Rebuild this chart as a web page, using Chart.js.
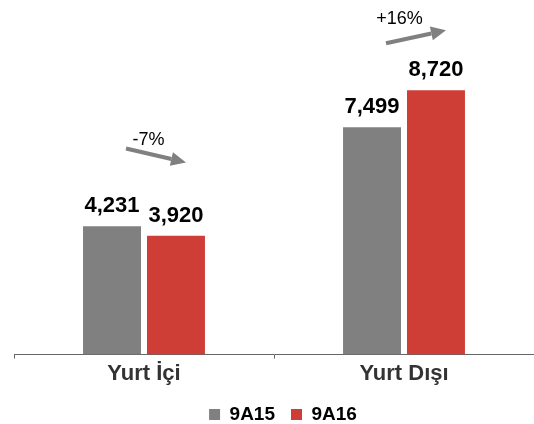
<!DOCTYPE html>
<html>
<head>
<meta charset="utf-8">
<script src="https://cdn.jsdelivr.net/npm/chart.js@4"></script>
<style>
html,body{margin:0;padding:0;background:#fff;}
#wrap{width:534px;height:424px;}
</style>
</head>
<body>
<div id="wrap"><canvas id="c" width="534" height="424"></canvas></div>
<script>
const categories = ["Yurt İçi", "Yurt Dışı"];
const series9A15 = [4231, 7499];
const series9A16 = [3920, 8720];
const seriesNames = ["9A15", "9A16"];
const changeLabels = ["-7%", "+16%"];
// arrow annotations in data units: start, end, label
const arrowStart = [6800, 10270];
const arrowEnd = [6340, 10700];
const arrowTextValue = [7085, 11065];

const FONT = "'Liberation Sans', Arial, sans-serif";

const labelPlugin = {
  id: 'labels',
  afterLayout(chart) {
    if (chart.legend) { chart.legend.left += 9; chart.legend.right += 9; }
  },
  afterDatasetsDraw(chart) {
    const ctx = chart.ctx;
    ctx.save();
    ctx.font = "bold 22px " + FONT;
    ctx.fillStyle = "#000";
    ctx.textAlign = "center";
    ctx.textBaseline = "alphabetic";
    chart.data.datasets.forEach((ds, di) => {
      const meta = chart.getDatasetMeta(di);
      meta.data.forEach((bar, i) => {
        ctx.fillText(ds.data[i].toLocaleString('en-US'), bar.x, bar.y - 14);
      });
    });
    const xs = chart.scales.x, ys = chart.scales.y;
    categories.forEach((c, i) => {
      const cx = xs.getPixelForValue(i);
      const x1 = cx - 18, x2 = cx + 42;
      const y1 = ys.getPixelForValue(arrowStart[i]);
      const y2 = ys.getPixelForValue(arrowEnd[i]);
      const ang = Math.atan2(y2 - y1, x2 - x1);
      const headLen = 15, headW = 7;
      const bx = x2 - headLen * Math.cos(ang), by = y2 - headLen * Math.sin(ang);
      ctx.strokeStyle = "#808080";
      ctx.fillStyle = "#808080";
      ctx.lineWidth = 4;
      ctx.beginPath();
      ctx.moveTo(x1, y1);
      ctx.lineTo(bx, by);
      ctx.stroke();
      ctx.beginPath();
      ctx.moveTo(x2, y2);
      ctx.lineTo(bx + headW * Math.sin(ang), by - headW * Math.cos(ang));
      ctx.lineTo(bx - headW * Math.sin(ang), by + headW * Math.cos(ang));
      ctx.closePath();
      ctx.fill();
      ctx.font = "18px " + FONT;
      ctx.fillStyle = "#000";
      ctx.textAlign = "center";
      ctx.textBaseline = "middle";
      ctx.fillText(changeLabels[i], cx + (i === 0 ? 4.5 : -4.5), ys.getPixelForValue(arrowTextValue[i]));
    });
    ctx.restore();
  }
};

new Chart(document.getElementById('c'), {
  type: 'bar',
  data: {
    labels: categories,
    datasets: [
      { label: seriesNames[0], data: series9A15, backgroundColor: "#808080", categoryPercentage: 0.492, barPercentage: 0.906 },
      { label: seriesNames[1], data: series9A16, backgroundColor: "#CF3D37", categoryPercentage: 0.492, barPercentage: 0.906 }
    ]
  },
  options: {
    responsive: false,
    animation: false,
    layout: { padding: { left: 14, right: 0, top: 6, bottom: -10 } },
    plugins: {
      legend: {
        position: 'bottom',
        labels: {
          boxWidth: 11, boxHeight: 11, padding: 16,
          color: "#000",
          font: { family: FONT, size: 19, weight: 'bold' }
        }
      },
      tooltip: { enabled: false }
    },
    scales: {
      x: {
        grid: { display: true, drawOnChartArea: false, drawTicks: true, tickLength: 4, color: "#666", offset: true },
        border: { display: true, color: "#666", width: 1 },
        ticks: { color: "#333", padding: 2, font: { family: FONT, size: 22, weight: 'bold' } }
      },
      y: {
        display: false,
        min: 0, max: 11500
      }
    }
  },
  plugins: [labelPlugin]
});
</script>
</body>
</html>
